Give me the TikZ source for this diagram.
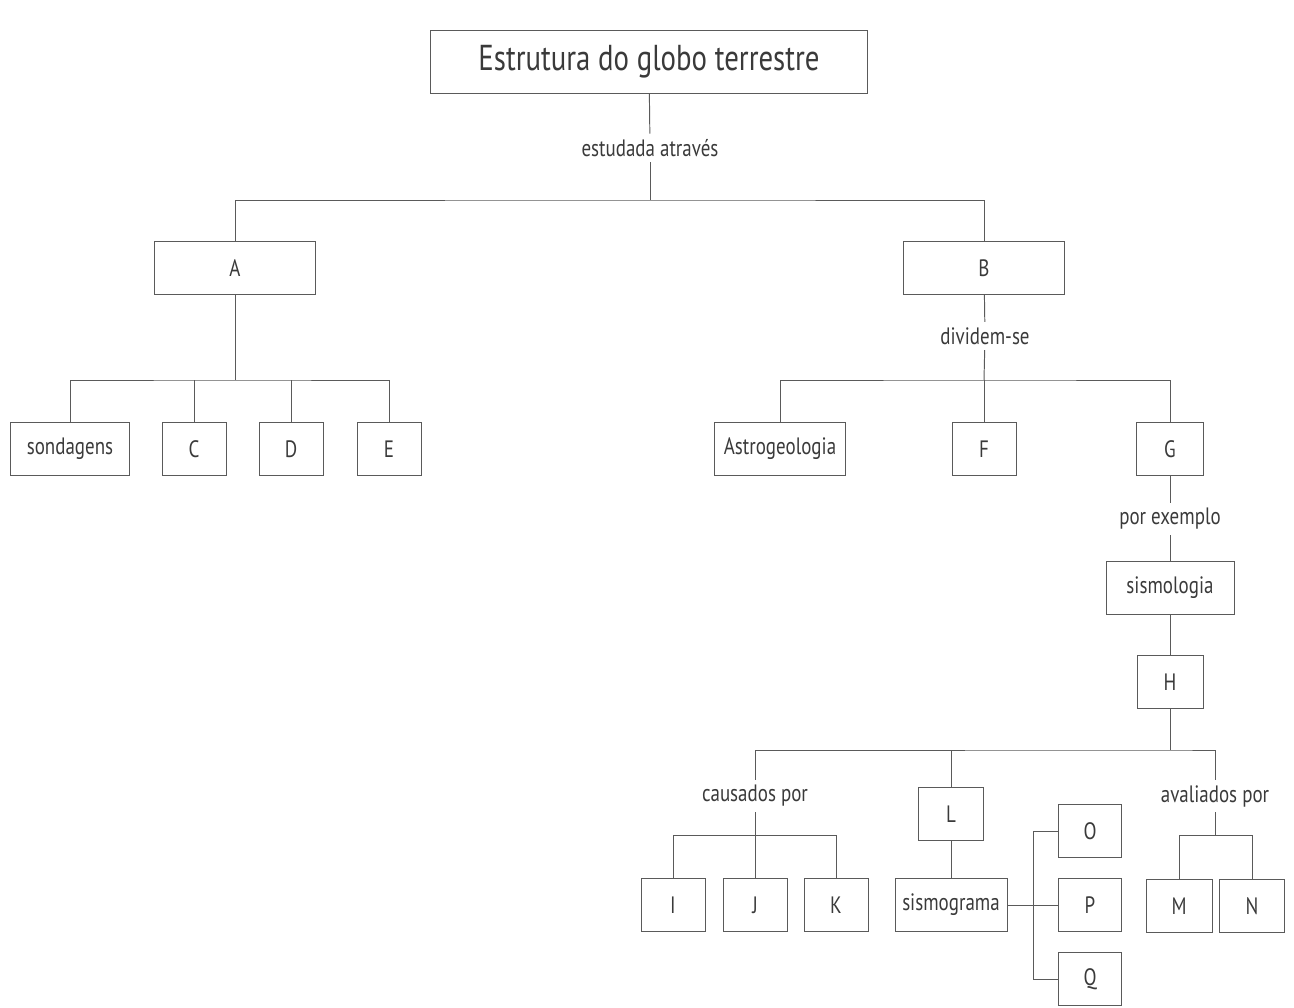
\documentclass[tikz,border=0pt]{standalone}
\usepackage{fontspec}
\setmainfont{PT Sans}[FakeStretch=0.8]
\definecolor{inkgray}{HTML}{3A3A3A}
\definecolor{linegray}{HTML}{5A5A5A}

\begin{document}
\begin{tikzpicture}[x=0.02cm, y=-0.02cm,
      every node/.style={text=inkgray, font=\fontsize{13.5}{15}\selectfont},
      box/.style={draw=linegray, line width=0.55pt, minimum height=1.05cm,
        minimum width=1.28cm, inner sep=1pt},
      tag/.style={inner sep=3pt},
      link/.style={draw=linegray, line width=0.55pt}
      ]
      \useasboundingbox (0,0) rectangle (1294,1007);

      \node[box, minimum width=8.76cm, minimum height=1.26cm,
        font=\fontsize{20.5}{24}\selectfont] (globo) at (649,62) {Estrutura do globo terrestre};
      \node[tag] (estudada) at (650,148) {estudada através};
      \coordinate (j1) at (650,200);

      \node[box, minimum width=3.22cm] (A) at (235,268) {A};
      \node[box, minimum width=3.22cm] (B) at (984,268) {B};

      \coordinate (j2) at (235,380);
      \node[box, minimum width=2.38cm] (sondagens) at (70,449) {sondagens};
      \node[box] (C) at (194,449) {C};
      \node[box] (D) at (291,449) {D};
      \node[box] (E) at (389,449) {E};

      \node[tag] (dividem) at (985,336) {dividem-se};
      \coordinate (j3) at (984,380);
      \node[box, minimum width=2.62cm] (astro) at (780,449) {Astrogeologia};
      \node[box] (F) at (984,449) {F};
      \node[box, minimum width=1.34cm] (G) at (1170,449) {G};

      \node[tag] (exemplo) at (1170,519) {por exemplo};
      \node[box, minimum width=2.56cm] (sismologia) at (1170,588) {sismologia};
      \node[box, minimum width=1.32cm] (H) at (1170,682) {H};
      \coordinate (j4) at (1170,750);

      \node[tag] (causados) at (755,796) {causados por};
      \coordinate (j5) at (755,835);
      \node[box] (I) at (673,905) {I};
      \node[box] (J) at (755,905) {J};
      \node[box] (K) at (836,905) {K};

      \node[box, minimum width=1.3cm] (L) at (951,814) {L};
      \node[box, minimum width=2.24cm] (sismograma) at (951,905) {sismograma};
      \coordinate (k) at (1033,905);
      \node[box, minimum width=1.26cm] (O) at (1090,831) {O};
      \node[box, minimum width=1.26cm] (P) at (1090,905) {P};
      \node[box, minimum width=1.26cm] (Q) at (1090,979) {Q};

      \node[tag] (avaliados) at (1215,796) {avaliados por};
      \coordinate (j6) at (1215,835);
      \node[box, minimum width=1.32cm] (M) at (1179,906) {M};
      \node[box, minimum width=1.3cm] (N) at (1252,906) {N};

      \draw[link] (globo) -- (estudada);
      \draw[link] (estudada) -- (j1);
      \draw[link] (A) |- (j1) -| (B);

      \draw[link] (A) -- (j2);
      \draw[link] (sondagens) |- (j2) -| (E);
      \draw[link] (C) -- (C |- j2);
      \draw[link] (D) -- (D |- j2);

      \draw[link] (B) -- (dividem);
      \draw[link] (dividem) -- (j3);
      \draw[link] (astro) |- (j3) -| (G);
      \draw[link] (F) -- (j3);

      \draw[link] (G) -- (exemplo);
      \draw[link] (exemplo) -- (sismologia);
      \draw[link] (sismologia) -- (H);
      \draw[link] (H) -- (j4);
      \draw[link] (causados) |- (j4) -| (avaliados);
      \draw[link] (L) -- (L |- j4);

      \draw[link] (causados) -- (j5);
      \draw[link] (I) |- (j5) -| (K);
      \draw[link] (J) -- (j5);

      \draw[link] (L) -- (sismograma);
      \draw[link] (sismograma) -- (P);
      \draw[link] (O) -| (k) |- (Q);

      \draw[link] (avaliados) -- (j6);
      \draw[link] (M) |- (j6) -| (N);
    \end{tikzpicture}
\end{document}
